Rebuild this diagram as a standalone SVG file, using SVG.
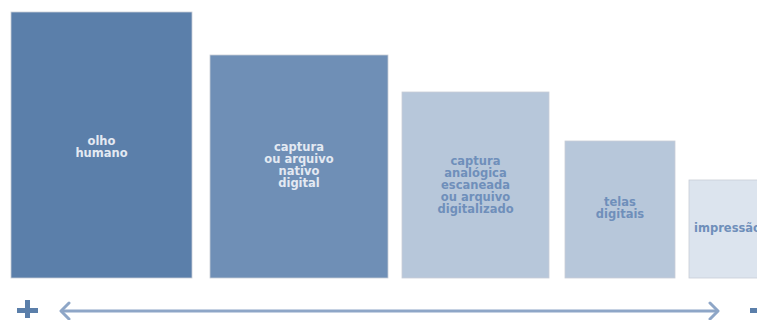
<svg xmlns="http://www.w3.org/2000/svg" width="757" height="320" viewBox="0 0 757 320">
<defs>
<style>
.lbl{font-family:"DejaVu Sans","Liberation Sans",sans-serif;font-weight:bold;font-size:11.5px;text-anchor:middle}
.light{fill:#e3e9f2}
.dark{fill:#6f8fba}
.box{stroke:#c9ced6;stroke-width:0.8}
</style>
</defs>
<rect width="757" height="320" fill="#ffffff"/>
<g id="olho-humano">
<rect class="box" x="11" y="12" width="181" height="266" fill="#5b7faa"/>
<text class="lbl light"><tspan x="101.5" y="145">olho</tspan><tspan x="101.5" y="157">humano</tspan></text>
</g>
<g id="captura-digital">
<rect class="box" x="210" y="55" width="178" height="223" fill="#6f8fb6"/>
<text class="lbl light"><tspan x="299" y="151">captura</tspan><tspan x="299" y="163">ou arquivo</tspan><tspan x="299" y="175">nativo</tspan><tspan x="299" y="187">digital</tspan></text>
</g>
<g id="captura-analogica">
<rect class="box" x="402" y="92" width="147" height="186" fill="#b7c7da"/>
<text class="lbl dark"><tspan x="475.5" y="165">captura</tspan><tspan x="475.5" y="177">analógica</tspan><tspan x="475.5" y="189">escaneada</tspan><tspan x="475.5" y="201">ou arquivo</tspan><tspan x="475.5" y="213">digitalizado</tspan></text>
</g>
<g id="telas-digitais">
<rect class="box" x="565" y="141" width="110" height="137" fill="#b7c7da"/>
<text class="lbl dark"><tspan x="620" y="206">telas</tspan><tspan x="620" y="218">digitais</tspan></text>
</g>
<g id="impressao">
<rect class="box" x="689" y="180" width="80" height="98" fill="#dce4ee"/>
<text class="lbl dark" style="text-anchor:start" x="694" y="232">impressão</text>
</g>
<g id="connectors">
<line x1="61" y1="311" x2="718" y2="311" stroke="#8ea6c7" stroke-width="3"/>
<polyline points="69,303 61,311 69,319" fill="none" stroke="#8ea6c7" stroke-width="3" stroke-linecap="round" stroke-linejoin="round"/>
<polyline points="710,303 718,311 710,319" fill="none" stroke="#8ea6c7" stroke-width="3" stroke-linecap="round" stroke-linejoin="round"/>
</g>
<g id="plus" fill="#5b7faa">
<rect x="17" y="308" width="21" height="5"/>
<rect x="25" y="300" width="5" height="18"/>
</g>
<g id="minus" fill="#5b7faa">
<rect x="750" y="308" width="7" height="5"/>
</g>
</svg>
